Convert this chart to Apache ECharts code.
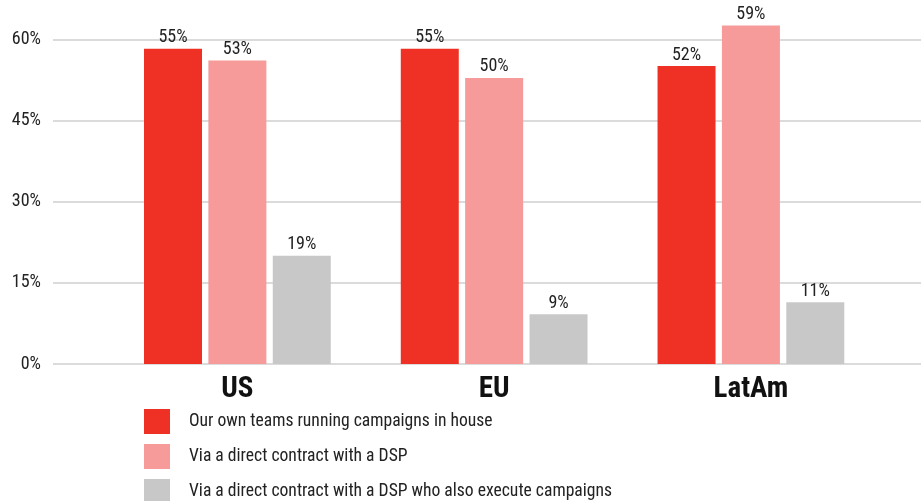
<!DOCTYPE html>
<html><head><meta charset="utf-8">
<script src="https://cdn.jsdelivr.net/npm/echarts@6/dist/echarts.min.js"></script>
<style>html,body{margin:0;padding:0;background:#fff}#c{width:921px;height:501px}</style>
</head><body><div id="c"></div>
<script>
const categories = ['US', 'EU', 'LatAm'];
const seriesNames = ['Our own teams running campaigns in house', 'Via a direct contract with a DSP', 'Via a direct contract with a DSP who also execute campaigns'];
const inHouse = [58.3, 58.3, 55.1];
const directDSP = [56.1, 52.9, 62.6];
const dspExecute = [20.0, 9.2, 11.4];
const inHouseLabels = ['55%', '55%', '52%'];
const directDSPLabels = ['53%', '50%', '59%'];
const dspExecuteLabels = ['19%', '9%', '11%'];
const yTicks = [0, 15, 30, 45, 60];

const FONT = "'Roboto Condensed','Liberation Sans Narrow','Roboto',sans-serif";
const colors = ['#ee3124', '#f69a9a', '#c8c8c8'];
const chart = echarts.init(document.getElementById('c'));
function mk(name, data, labels, i) {
  return {
    name, type: 'bar', data, xAxisIndex: 1, yAxisIndex: 1, clip: false,
    barWidth: 58, barGap: '11%',
    itemStyle: { color: colors[i] },
    label: { show: true, position: 'top', distance: 2, fontFamily: FONT, fontSize: 18, color: '#222',
      formatter: p => labels[p.dataIndex] }
  };
}
const legends = seriesNames.map((n, i) => ({
  orient: 'vertical', left: 144, top: 409 + i * 35, itemWidth: 26, itemHeight: 25, padding: 0,
  icon: 'rect',
  textStyle: { fontFamily: FONT, fontSize: 17.6, color: '#222', padding: [0, 0, 0, 14] },
  data: [n]
}));
chart.setOption({
  animation: false,
  color: colors,
  grid: [
    { left: 53, right: 0, top: 39.5, bottom: 137, containLabel: false },
    { left: 109, right: 41.7, top: 39.5, bottom: 137, containLabel: false }
  ],
  xAxis: [
    { gridIndex: 0, type: 'category', data: categories, show: false },
    { gridIndex: 1, type: 'category', data: categories,
      axisLine: { show: false }, axisTick: { show: false },
      axisLabel: { fontFamily: FONT, fontWeight: 'bold', fontSize: 29, color: '#111', margin: 11 } }
  ],
  yAxis: [
    { gridIndex: 0, type: 'value', min: yTicks[0], max: yTicks[yTicks.length - 1], interval: 15,
      axisLine: { show: false }, axisTick: { show: false },
      axisLabel: { formatter: '{value}%', fontFamily: FONT, fontSize: 18, color: '#222', margin: 12 },
      splitLine: { lineStyle: { color: '#cfcfcf', width: 1.5 } } },
    { gridIndex: 1, type: 'value', min: 0, max: 60, interval: 15, show: false, splitLine: { show: false } }
  ],
  legend: legends,
  series: [
    mk(seriesNames[0], inHouse, inHouseLabels, 0),
    mk(seriesNames[1], directDSP, directDSPLabels, 1),
    mk(seriesNames[2], dspExecute, dspExecuteLabels, 2)
  ]
});
</script></body></html>
